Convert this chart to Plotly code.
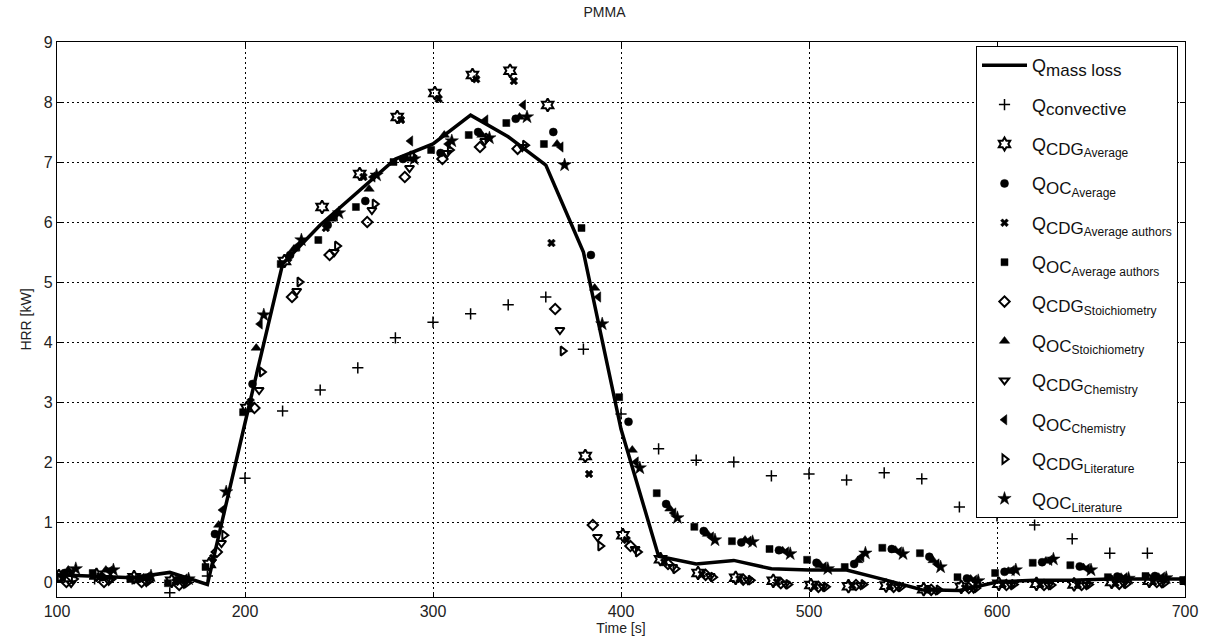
import plotly.graph_objects as go

# ---------------- data ----------------
sample_times = [100, 120, 140, 160, 180, 200, 220, 240, 260, 280, 300, 320, 340, 360, 380,
                400, 420, 440, 460, 480, 500, 520, 540, 560, 580, 600, 620, 640, 660, 680, 700]

q_mass_loss = [0.12, 0.10, 0.07, 0.16, -0.04, 2.65, 5.30, 5.95, 6.50, 7.05, 7.30, 7.78, 7.42, 6.95, 5.50,
               2.55, 0.43, 0.30, 0.36, 0.22, 0.20, 0.20, 0.04, -0.13, -0.14, 0.00, 0.03, 0.03, 0.05, 0.05, 0.05]

conv_times = [100, 120, 140, 160, 180, 200, 220, 240, 260, 280, 300, 320, 340, 360, 380,
              400, 420, 440, 460, 480, 500, 520, 540, 560, 580, 600, 620, 640, 660, 680]
q_convective = [0.10, 0.05, 0.05, -0.18, 0.10, 1.73, 2.85, 3.20, 3.57, 4.07, 4.33, 4.47, 4.62, 4.75, 3.88,
                2.80, 2.22, 2.03, 2.00, 1.77, 1.80, 1.70, 1.82, 1.72, 1.25, 1.10, 0.95, 0.72, 0.48, 0.48]

# analyser time shifts of each method [s]
delay_cdg_average = 1
delay_oc_average = 4
delay_cdg_avg_authors = 3
delay_oc_avg_authors = -1
delay_cdg_stoich = 5
delay_oc_stoich = 6
delay_cdg_chem = 7.5
delay_oc_chem = 8
delay_cdg_lit = 9
delay_oc_lit = 10

q_cdg_average = [0.10, 0.12, 0.08, 0.02, 0.30, 2.90, 5.35, 6.25, 6.80, 7.75, 8.15, 8.45, 8.52, 7.95, 2.10,
                 0.78, 0.38, 0.15, 0.07, 0.02, -0.05, -0.07, -0.06, -0.12, -0.08, -0.03, -0.03, -0.04, 0.00, 0.02, 0.02]
q_oc_average = [0.15, 0.08, 0.06, 0.03, 0.80, 3.30, 5.45, 5.95, 6.35, 7.05, 7.15, 7.50, 7.72, 7.50, 5.45,
                2.67, 1.30, 0.85, 0.66, 0.53, 0.32, 0.30, 0.55, 0.42, 0.06, 0.17, 0.33, 0.26, 0.09, 0.10, 0.05]
q_cdg_avg_authors = [0.05, 0.10, 0.05, 0.00, 0.40, 3.00, 5.40, 5.90, 6.75, 7.70, 8.05, 8.38, 8.35, 5.65, 1.80,
                     0.70, 0.33, 0.13, 0.05, 0.00, -0.07, -0.06, -0.07, -0.13, -0.10, -0.04, -0.04, -0.05, -0.02, 0.00, 0.00]
q_oc_avg_authors = [0.05, 0.15, 0.05, -0.02, 0.25, 2.83, 5.30, 5.70, 6.25, 7.00, 7.20, 7.45, 7.65, 7.30, 5.90,
                    3.08, 1.48, 0.92, 0.68, 0.55, 0.37, 0.25, 0.57, 0.48, 0.08, 0.15, 0.32, 0.28, 0.08, 0.10, 0.03]
q_cdg_stoich = [0.00, 0.00, 0.00, -0.05, 0.50, 2.90, 4.75, 5.45, 6.00, 6.75, 7.05, 7.25, 7.22, 4.55, 0.95,
                0.60, 0.30, 0.12, 0.04, -0.02, -0.08, -0.05, -0.08, -0.13, -0.10, -0.05, -0.05, -0.05, -0.03, 0.00, 0.00]
q_oc_stoich = [0.20, 0.20, 0.07, 0.05, 0.95, 3.90, 5.55, 6.05, 6.55, 7.05, 7.45, 7.45, 7.75, 7.30, 4.90,
               2.20, 1.22, 0.80, 0.70, 0.52, 0.28, 0.36, 0.53, 0.36, 0.05, 0.18, 0.35, 0.24, 0.08, 0.08, 0.05]
q_cdg_chem = [-0.02, 0.02, 0.00, -0.03, 0.65, 3.20, 4.85, 5.50, 6.20, 6.90, 7.15, 7.35, 7.25, 4.20, 0.75,
              0.55, 0.25, 0.10, 0.03, -0.03, -0.08, -0.05, -0.08, -0.14, -0.11, -0.05, -0.05, -0.05, -0.02, -0.02, 0.00]
q_oc_chem = [0.15, 0.18, 0.08, 0.05, 1.20, 4.30, 5.60, 6.10, 6.75, 7.35, 7.30, 7.70, 7.95, 7.25, 4.75,
             2.00, 1.15, 0.75, 0.68, 0.50, 0.25, 0.42, 0.50, 0.30, 0.03, 0.19, 0.36, 0.22, 0.07, 0.08, 0.05]
q_cdg_lit = [0.05, 0.05, 0.02, -0.02, 0.78, 3.50, 5.00, 5.60, 6.30, 7.10, 7.20, 7.40, 7.28, 3.85, 0.60,
             0.50, 0.22, 0.08, 0.03, -0.04, -0.08, -0.04, -0.08, -0.13, -0.10, -0.04, -0.05, -0.04, -0.03, -0.02, 0.00]
q_oc_lit = [0.22, 0.20, 0.10, 0.05, 1.50, 4.45, 5.70, 6.15, 6.78, 7.05, 7.35, 7.40, 7.75, 6.95, 4.30,
            1.90, 1.07, 0.70, 0.67, 0.47, 0.22, 0.48, 0.47, 0.25, 0.02, 0.20, 0.38, 0.20, 0.06, 0.07, 0.05]

x_ticks = [100, 200, 300, 400, 500, 600, 700]
y_ticks = [0, 1, 2, 3, 4, 5, 6, 7, 8, 9]


def label(main, sub=None):
    """Q with a subscript and an optional second-level subscript."""
    s = f"Q<sub><span style='font-size:17px'>{main}</span>"
    if sub:
        s += f"<sub><span style='font-size:12px'>{sub}</span></sub>"
    return s + "</sub>"


# ---------------- figure ----------------
FONT = "Liberation Sans, Arial, sans-serif"
fig = go.Figure()

fig.add_trace(go.Scatter(x=sample_times, y=q_mass_loss, mode="lines",
                         line=dict(color="black", width=3.5),
                         name=label("mass loss"), legendgroup="g0"))
fig.add_trace(go.Scatter(x=conv_times, y=q_convective, mode="markers",
                         marker=dict(symbol="cross-thin", size=8, line=dict(color="black", width=1.5)),
                         name=label("convective"), legendgroup="g1"))

series = [
    (label("CDG", "Average"), q_cdg_average, delay_cdg_average, "hexagram-open", 10),
    (label("OC", "Average"), q_oc_average, delay_oc_average, "circle", 8),
    (label("CDG", "Average authors"), q_cdg_avg_authors, delay_cdg_avg_authors, "x", 7),
    (label("OC", "Average authors"), q_oc_avg_authors, delay_oc_avg_authors, "square", 7),
    (label("CDG", "Stoichiometry"), q_cdg_stoich, delay_cdg_stoich, "diamond-open", 8),
    (label("OC", "Stoichiometry"), q_oc_stoich, delay_oc_stoich, "triangle-up", 9),
    (label("CDG", "Chemistry"), q_cdg_chem, delay_cdg_chem, "triangle-down-open", 8),
    (label("OC", "Chemistry"), q_oc_chem, delay_oc_chem, "triangle-left", 9),
    (label("CDG", "Literature"), q_cdg_lit, delay_cdg_lit, "triangle-right-open", 8),
    (label("OC", "Literature"), q_oc_lit, delay_oc_lit, "star", 10),
]
for i, (name, vals, delay, sym, size) in enumerate(series):
    times = [t + delay for t in sample_times]
    is_open = sym.endswith("-open")
    fig.add_trace(go.Scatter(
        x=times, y=vals, mode="markers", name=name, legendgroup=f"g{i+2}",
        marker=dict(symbol=sym, size=size, color="black",
                    line=dict(color="black", width=2 if is_open else 0.5)),
    ))

axis_common = dict(showline=True, linecolor="black", linewidth=1.2, mirror="ticks",
                   ticks="inside", ticklen=5, tickcolor="black", tickwidth=1,
                   showgrid=True, gridcolor="black", griddash="2px,3px", gridwidth=1,
                   zeroline=False, tickfont=dict(family=FONT, size=16, color="#222"))

fig.update_xaxes(range=[100, 700], tickvals=x_ticks, ticktext=[str(v) for v in x_ticks],
                 title=dict(text="Time [s]", font=dict(family=FONT, size=14, color="#222"), standoff=2),
                 **axis_common)
fig.update_yaxes(range=[-0.25, 9], tickvals=y_ticks, ticktext=[str(v) for v in y_ticks],
                 title=dict(text="HRR [kW]", font=dict(family=FONT, size=14, color="#222"), standoff=8),
                 **axis_common)

fig.update_layout(
    width=1209, height=644,
    margin=dict(l=57, r=24, t=42, b=47),
    paper_bgcolor="white", plot_bgcolor="white",
    title=dict(text="PMMA", x=0.5, xanchor="center", y=1 - 12 / 644, yanchor="middle", yref="container",
               font=dict(family=FONT, size=14, color="#222")),
    font=dict(family=FONT, color="#222"),
    legend=dict(x=0.9938, y=0.9928, xanchor="right", yanchor="top",
                bgcolor="white", bordercolor="black", borderwidth=1,
                font=dict(family=FONT, size=18, color="#111"),
                traceorder="grouped", tracegroupgap=13, itemwidth=45),
)

fig.write_html("out.html")
